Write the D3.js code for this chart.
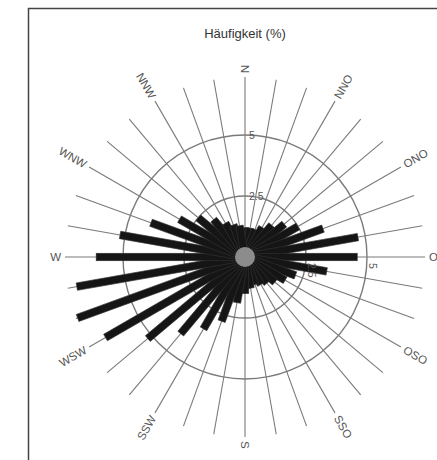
<!DOCTYPE html>
<html>
<head>
<meta charset="utf-8">
<script src="https://cdn.jsdelivr.net/npm/d3@7"></script>
<style>
  body { margin: 0; background: #fff; }
  text { font-family: "Liberation Sans", Arial, sans-serif; }
</style>
</head>
<body>
<div id="container"></div>
<script>
// Windrichtungen (Grad, im Uhrzeigersinn ab Nord) und Häufigkeit in %
const directions = d3.range(0, 360, 10);
const frequency = [
  1.2, 1.2, 1.2, 1.4, 1.7, 2.1, 2.5, 3.4, 4.7,   // 0 - 80
  4.6, 3.4, 2.2, 1.9, 1.6, 1.4, 1.3, 1.2, 1.3,   // 90 - 170
  1.5, 1.9, 2.8, 3.4, 4.1, 5.2, 6.6, 7.3, 7.0,   // 180 - 260
  6.1, 5.2, 4.1, 3.1, 2.5, 2.0, 1.6, 1.4, 1.3    // 270 - 350
];
const labelAngles = [0, 30, 60, 90, 120, 150, 180, 210, 240, 270, 300, 330];
const labelNames = ["N", "NNO", "ONO", "O", "OSO", "SSO", "S", "SSW", "WSW", "W", "WNW", "NNW"];
const ringValues = [2.5, 5];
const ringLabels = ["2.5", "5"];

const WIDTH = 437,
      HEIGHT = 460;
const cx = 245, cy = 257;
const spokeLength = 180,
      labelRadius = 184,
      barWidth = 7.5,
      calmRadius = 10;

const svg = d3.select('#container').append('svg')
    .attr("width", WIDTH)
    .attr("height", HEIGHT);

// Rahmen
svg.append("rect")
    .attr("x", 28.5).attr("y", 8.5)
    .attr("width", 600).attr("height", 600)
    .attr("fill", "none")
    .attr("stroke", "#444")
    .attr("stroke-width", 1.5);

// Titel
svg.append("text")
    .attr("x", cx).attr("y", 38)
    .attr("text-anchor", "middle")
    .attr("font-size", 13)
    .attr("fill", "#333")
    .text("Häufigkeit (%)");

const g = svg.append('g').attr('transform', `translate(${cx} ${cy})`);

// Skalen
const rScale = d3.scaleLinear().domain([0, 5]).range([0, 122]);
const aScale = d3.scaleLinear().domain([0, 360]).range([0, 2 * Math.PI]);

const px = (deg, r) => r * Math.sin(aScale(deg));
const py = (deg, r) => -r * Math.cos(aScale(deg));

// Speichen
g.selectAll("line.spoke")
    .data(directions)
    .join("line")
    .attr("class", "spoke")
    .attr("x1", 0).attr("y1", 0)
    .attr("x2", d => px(d, spokeLength))
    .attr("y2", d => py(d, spokeLength))
    .attr("stroke", "#7a7a7a")
    .attr("stroke-width", 1.1);

// Ringe
g.selectAll("circle.ring")
    .data(ringValues)
    .join("circle")
    .attr("class", "ring")
    .attr("r", d => rScale(d))
    .attr("fill", "none")
    .attr("stroke", "#7a7a7a")
    .attr("stroke-width", 1.4);

// Balken
g.selectAll("rect.bar")
    .data(directions.map((d, i) => ({dir: d, value: frequency[i]})))
    .join("rect")
    .attr("class", "bar")
    .attr("x", -barWidth / 2)
    .attr("y", d => -rScale(d.value))
    .attr("width", barWidth)
    .attr("height", d => rScale(d.value))
    .attr("transform", d => `rotate(${d.dir})`)
    .attr("fill", "#151515")
    .attr("stroke", "#333")
    .attr("stroke-width", 0.6);

// Kalme in der Mitte
g.append("circle")
    .attr("r", calmRadius)
    .attr("fill", "#8c8c8c");

// Ringbeschriftung (oben und rechts)
g.selectAll("text.ringN")
    .data(ringValues)
    .join("text")
    .attr("class", "ringN")
    .attr("x", 4)
    .attr("y", d => -rScale(d) + 4)
    .attr("font-size", 10.5)
    .attr("fill", "#555")
    .text((d, i) => ringLabels[i]);

g.selectAll("text.ringE")
    .data(ringValues)
    .join("text")
    .attr("class", "ringE")
    .attr("transform", d => `translate(${rScale(d) + 2} 6) rotate(90)`)
    .attr("font-size", 10.5)
    .attr("fill", "#555")
    .text((d, i) => ringLabels[i]);

// Richtungsbeschriftung
g.selectAll("text.dir")
    .data(labelAngles.map((a, i) => ({a: a, name: labelNames[i]})))
    .join("text")
    .attr("class", "dir")
    .attr("transform", d => {
        const x = px(d.a, labelRadius), y = py(d.a, labelRadius);
        const rot = (d.a > 0 && d.a <= 180) ? d.a - 90 : d.a - 270;
        return `translate(${x} ${y}) rotate(${rot})`;
    })
    .attr("text-anchor", d => (d.a > 0 && d.a <= 180) ? "start" : "end")
    .attr("dy", "0.35em")
    .attr("font-size", 11.5)
    .attr("fill", "#555")
    .text(d => d.name);
</script>
</body>
</html>
